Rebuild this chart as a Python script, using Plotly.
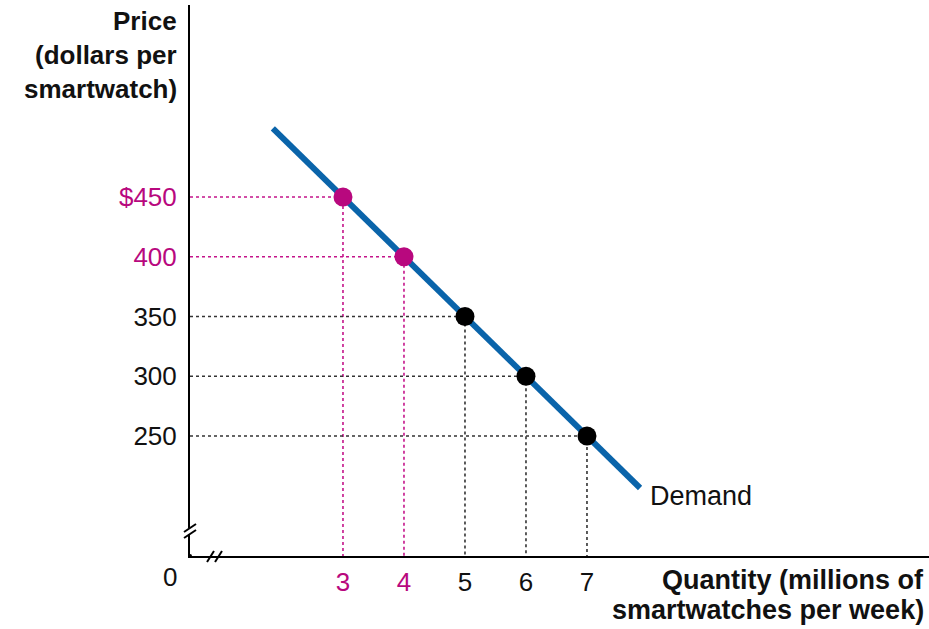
import plotly.graph_objects as go

# Data
quantities = [3, 4, 5, 6, 7]
prices = [450, 400, 350, 300, 250]
point_colors = ["#B8087E", "#B8087E", "#000000", "#000000", "#000000"]
guide_colors = ["#C4148A", "#C4148A", "#333333", "#333333", "#333333"]
demand_q = [1.85, 7.87]
demand_p = [507.5, 206.5]
x_ticks = [3, 4, 5, 6, 7]
x_tick_text = ["3", "4", "5", "6", "7"]
y_ticks = [450, 400, 350, 300, 250]
y_tick_text = ["$450", "400", "350", "300", "250"]
tick_col = ["#B8087E", "#B8087E", "#111111", "#111111", "#111111"]
price_title = ["Price", "(dollars per", "smartwatch)"]
qty_title = ["Quantity (millions of", "smartwatches per week)"]

X0, X1 = 0.492, 12.607
Y0, Y1 = 149.6, 610.7

fig = go.Figure()

# dotted guide lines
for q, p, c in zip(quantities, prices, guide_colors):
    fig.add_trace(go.Scatter(x=[X0, q, q], y=[p, p, Y0], mode="lines",
                             line=dict(color=c, width=1.6, dash="dot"),
                             hoverinfo="skip", showlegend=False))

# demand curve
fig.add_trace(go.Scatter(x=demand_q, y=demand_p, mode="lines",
                         line=dict(color="#0A64AA", width=6),
                         showlegend=False))

# points
fig.add_trace(go.Scatter(x=quantities, y=prices, mode="markers",
                         marker=dict(color=point_colors, size=19, line=dict(width=0)),
                         showlegend=False))

def color_tick(t, c):
    return f"<span style='color:{c}'>{t}</span>"

fig.update_layout(
    width=929, height=629,
    margin=dict(l=190, r=0, t=5, b=73),
    plot_bgcolor="white", paper_bgcolor="white",
    font=dict(family="Liberation Sans, Arial, sans-serif", size=26, color="#111111"),
    xaxis=dict(range=[X0, X1], showgrid=False, zeroline=False, showline=True,
               linecolor="black", linewidth=2,
               tickvals=x_ticks,
               ticktext=[color_tick(t, c) for t, c in zip(x_tick_text, tick_col)],
               ticks="outside", ticklen=2, tickcolor="rgba(0,0,0,0)"),
    yaxis=dict(range=[Y0, Y1], showgrid=False, zeroline=False, showline=True,
               linecolor="black", linewidth=2,
               tickvals=y_ticks,
               ticktext=[color_tick(t, c) for t, c in zip(y_tick_text, tick_col)],
               ticks="outside", ticklen=6, tickcolor="rgba(0,0,0,0)"),
)

def px(xp):
    return (xp - 190) / 739
def py(yp):
    return (556 - yp) / 551

# axis titles (one annotation per line)
for line, yc in zip(price_title, [21, 55, 89]):
    fig.add_annotation(xref="paper", yref="paper", x=px(179), y=py(yc), xanchor="right", yanchor="middle",
                       text=f"<b>{line}</b>", showarrow=False, font=dict(size=26, color="#111111"))
for line, yc in zip(qty_title, [580, 610]):
    fig.add_annotation(xref="paper", yref="paper", x=px(926), y=py(yc), xanchor="right", yanchor="middle",
                       text=f"<b>{line}</b>", showarrow=False, font=dict(size=27, color="#111111"))
fig.add_annotation(xref="paper", yref="paper", x=px(170), y=py(577), xanchor="center", yanchor="middle",
                   text="0", showarrow=False, font=dict(size=26, color="#111111"))
fig.add_annotation(x=demand_q[1], y=demand_p[1], xanchor="left", yanchor="middle", xshift=8, yshift=-8,
                   text="Demand", showarrow=False, font=dict(size=27, color="#111111"))

# y-axis break (gap in axis + two parallel slashes)
fig.add_shape(type="line", xref="paper", yref="paper", x0=px(190), y0=py(528), x1=px(190), y1=py(534),
              line=dict(color="white", width=4))
fig.add_shape(type="line", xref="paper", yref="paper", x0=px(184), y0=py(532), x1=px(196), y1=py(524),
              line=dict(color="black", width=2))
fig.add_shape(type="line", xref="paper", yref="paper", x0=px(184), y0=py(538), x1=px(196), y1=py(530),
              line=dict(color="black", width=2))
# x-axis break
fig.add_shape(type="line", xref="paper", yref="paper", x0=px(207), y0=py(562), x1=px(214), y1=py(551),
              line=dict(color="black", width=2))
fig.add_shape(type="line", xref="paper", yref="paper", x0=px(215), y0=py(562), x1=px(222), y1=py(551),
              line=dict(color="black", width=2))
fig.add_shape(type="circle", xref="paper", yref="paper", x0=px(188), y0=py(558), x1=px(192), y1=py(554),
              fillcolor="black", line=dict(width=0))

fig.write_html("out.html")
